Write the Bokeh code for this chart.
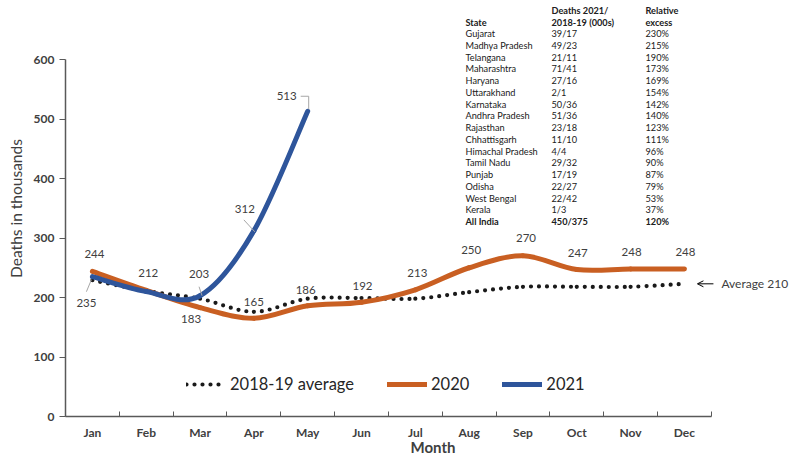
import numpy as np
from bokeh.plotting import figure
from bokeh.models import (FixedTicker, Range1d, Legend, LegendItem, Arrow, OpenHead)
from bokeh.embed import file_html
from bokeh.resources import INLINE
from bokeh.core.properties import value

# ---------------- data ----------------
months = ["Jan", "Feb", "Mar", "Apr", "May", "Jun", "Jul", "Aug", "Sep", "Oct", "Nov", "Dec"]
avg_2018_19 = [229, 211, 198, 176, 198, 199, 198, 209, 218, 218, 218, 223]
deaths_2020 = [244, 212, 183, 165, 186, 192, 213, 250, 270, 247, 248, 248]
deaths_2021 = [235, 210, 203, 312, 513]
labels_2020 = ["244", "212", "183", "165", "186", "192", "213", "250", "270", "247", "248", "248"]
labels_2021 = ["235", "", "203", "312", "513"]
average_note = "Average 210"
y_ticks = [0, 100, 200, 300, 400, 500, 600]

table_head1 = ["", "Deaths 2021/", "Relative"]
table_head2 = ["State", "2018-19 (000s)", "excess"]
states = ["Gujarat", "Madhya Pradesh", "Telangana", "Maharashtra", "Haryana", "Uttarakhand",
          "Karnataka", "Andhra Pradesh", "Rajasthan", "Chhattisgarh", "Himachal Pradesh",
          "Tamil Nadu", "Punjab", "Odisha", "West Bengal", "Kerala"]
deaths_ratio = ["39/17", "49/23", "21/11", "71/41", "27/16", "2/1", "50/36", "51/36", "23/18",
                "11/10", "4/4", "29/32", "17/19", "22/27", "22/42", "1/3"]
rel_excess = ["230%", "215%", "190%", "173%", "169%", "154%", "142%", "140%", "123%", "111%",
              "96%", "90%", "87%", "79%", "53%", "37%"]
all_india = ["All India", "450/375", "120%"]

# ---------------- layout / styles ----------------
W, H = 800, 458
BL, BB = 65, 42
FW, FH = W - BL, H - BB
XPX = 53.82                      # px per month
TOP600 = 59                      # px from frame top to y=600
YPX = (FH - TOP600) / 600.0      # px per thousand
X0 = 0.5
X1 = X0 + FW / XPX
Y1 = 600 + TOP600 / YPX

FONT = "Lato"
C_AVG, C_2020, C_2021 = "#1a1a1a", "#C95F22", "#2E559B"
C_TXT, C_AX, C_LEAD = "#404040", "#595959", "#A6A6A6"

def dx(px):
    return px / XPX

def dy(px):
    return -px / YPX

def fx(px_page):
    return X0 + (px_page - BL) / XPX

def fy(px_page):
    return Y1 - px_page / YPX

def bez(xs, ys, t=1.0 / 6):
    xs = np.asarray(xs, float)
    ys = np.asarray(ys, float)
    n = len(xs)
    xp = np.concatenate([[xs[0]], xs, [xs[-1]]])
    yp = np.concatenate([[ys[0]], ys, [ys[-1]]])
    return dict(
        x0=xp[1:n], y0=yp[1:n], x1=xp[2:n + 1], y1=yp[2:n + 1],
        cx0=xp[1:n] + (xp[2:n + 1] - xp[0:n - 1]) * t,
        cy0=yp[1:n] + (yp[2:n + 1] - yp[0:n - 1]) * t,
        cx1=xp[2:n + 1] - (xp[3:n + 2] - xp[1:n]) * t,
        cy1=yp[2:n + 1] - (yp[3:n + 2] - yp[1:n]) * t,
    )

p = figure(width=W, height=H, output_backend="svg", toolbar_location=None,
           x_range=Range1d(X0, X1), y_range=Range1d(0, Y1),
           min_border_left=BL, min_border_right=0, min_border_top=0, min_border_bottom=BB)
p.outline_line_color = None
p.grid.visible = False
p.background_fill_color = "white"

xm = np.arange(1, 13)
x21 = xm[:len(deaths_2021)]

# lines (smoothed)
p.bezier(**bez(xm, avg_2018_19), line_color=C_AVG, line_width=4.2, line_dash="0 8", line_cap="round")
p.bezier(**bez(xm, deaths_2020), line_color=C_2020, line_width=5, line_cap="round")
p.bezier(**bez(x21, deaths_2021), line_color=C_2021, line_width=5, line_cap="round")

# data labels
off20 = [(2, -17), (2, -17), (-9, 11), (0, -16), (-2, -16), (1, -16), (2, -17), (2, -18),
         (3, -18), (1, -17), (1, -17), (1, -17)]
off21 = [(-6, 26), (0, 0), (-1, -22), (-9, -22), (-21, -15)]
txt_kw = dict(text_font=value(FONT), text_font_size="11.5px", text_align="center",
              text_baseline="middle", text_color=C_TXT)
p.text(x=xm, y=deaths_2020, text=labels_2020,
       x_offset=[o[0] for o in off20], y_offset=[o[1] for o in off20], **txt_kw)
p.text(x=x21, y=deaths_2021, text=labels_2021,
       x_offset=[o[0] for o in off21], y_offset=[o[1] for o in off21], **txt_kw)

# leader lines for 2021 labels
leaders = {0: [(-6, 15), (-1, 3)], 2: [(-1, -9), (2, 0)], 3: [(-10, -11), (1, 1)],
           4: [(-7, -15), (1, -15), (1, -2)]}
lx, ly = [], []
for i, pts in leaders.items():
    lx.append([x21[i] + dx(a) for a, b in pts])
    ly.append([deaths_2021[i] + dy(b) for a, b in pts])
p.multi_line(xs=lx, ys=ly, line_color=C_LEAD, line_width=1)

# average note
p.add_layout(Arrow(end=OpenHead(size=6, line_width=1, line_color="black"),
                   x_start=12 + dx(29), y_start=avg_2018_19[-1], x_end=12 + dx(13),
                   y_end=avg_2018_19[-1], line_width=1, line_color="black"))
p.text(x=[12 + dx(37)], y=[avg_2018_19[-1]], text=[average_note],
       text_font=value(FONT), text_font_size="12px", text_align="left",
       text_baseline="middle", text_color=C_TXT)

# table
col_px = [465, 551, 645]
row0, row_step = 33, 11.75
tkw = dict(text_font=value(FONT), text_font_size="9.2px", text_align="left",
           text_baseline="middle", text_color="#202020")
for j in range(3):
    p.text(x=[fx(col_px[j])] * 2, y=[fy(10), fy(22)], text=[table_head1[j], table_head2[j]],
           text_font_style="bold", **tkw)
cols = [states, deaths_ratio, rel_excess]
for j in range(3):
    p.text(x=[fx(col_px[j])] * len(states), y=[fy(row0 + row_step * i) for i in range(len(states))],
           text=cols[j], **tkw)
    p.text(x=[fx(col_px[j])], y=[fy(row0 + row_step * len(states))], text=[all_india[j]],
           text_font_style="bold", **tkw)

# axes
xa = p.xaxis[0]
xa.ticker = FixedTicker(ticks=list(xm), minor_ticks=list(np.arange(0.5, 13, 1.0)))
xa.major_label_overrides = {int(i): m for i, m in zip(xm, months)}
xa.bounds = (0.5, 12.5)
xa.major_tick_in = 0
xa.major_tick_out = 0
xa.minor_tick_in = 5
xa.minor_tick_out = 0
xa.minor_tick_line_color = C_AX
xa.axis_line_color = C_AX
xa.axis_line_width = 1.5
xa.major_label_text_font = FONT
xa.major_label_text_font_style = "bold"
xa.major_label_text_font_size = "12px"
xa.major_label_text_color = C_TXT
xa.major_label_standoff = 8
xa.axis_label = "Month"
xa.axis_label_text_font = FONT
xa.axis_label_text_font_style = "bold"
xa.axis_label_text_font_size = "15px"
xa.axis_label_text_color = C_TXT
xa.axis_label_standoff = -5

ya = p.yaxis[0]
ya.ticker = FixedTicker(ticks=y_ticks, minor_ticks=[])
ya.bounds = (0, 600)
ya.major_tick_in = 0
ya.major_tick_out = 6
ya.major_tick_line_color = C_AX
ya.axis_line_color = C_AX
ya.axis_line_width = 1.5
ya.major_label_text_font = FONT
ya.major_label_text_font_style = "bold"
ya.major_label_text_font_size = "12px"
ya.major_label_text_color = C_TXT
ya.major_label_standoff = 5
ya.axis_label = "Deaths in thousands"
ya.axis_label_text_font = FONT
ya.axis_label_text_font_style = "normal"
ya.axis_label_text_font_size = "15.5px"
ya.axis_label_text_color = C_TXT
ya.axis_label_standoff = 6

# legend (proxy renderers carry the legend styling only)
d0 = p.line(x=[np.nan], y=[np.nan], line_color=C_AVG, line_width=4.2, line_dash="0 8", line_cap="round")
d1 = p.line(x=[np.nan], y=[np.nan], line_color=C_2020, line_width=5, line_cap="round")
d2 = p.line(x=[np.nan], y=[np.nan], line_color=C_2021, line_width=5, line_cap="round")
leg = Legend(items=[LegendItem(label="2018-19 average", renderers=[d0]),
                    LegendItem(label="2020", renderers=[d1]),
                    LegendItem(label="2021", renderers=[d2])],
             orientation="horizontal", location=(121, 22), glyph_width=40, glyph_height=20,
             label_standoff=4, spacing=33, padding=0, margin=0, border_line_color=None,
             background_fill_alpha=0, label_text_font=FONT, label_text_font_size="16.5px",
             label_text_color="#262626", label_height=20)
p.add_layout(leg)

open("out.html", "w").write(file_html(p, INLINE))
